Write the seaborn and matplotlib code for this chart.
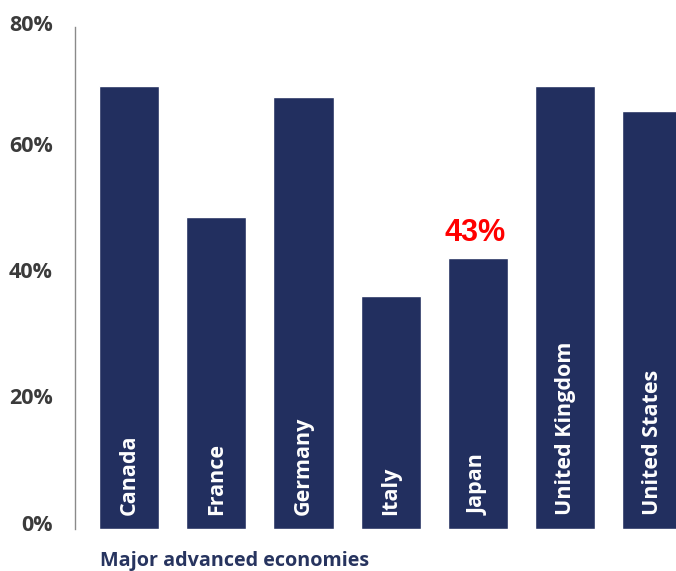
import matplotlib
matplotlib.use("Agg")
import matplotlib.pyplot as plt
import matplotlib.transforms as mtransforms
import pandas as pd
import seaborn as sns

countries = ["Canada", "France", "Germany", "Italy", "Japan", "United Kingdom", "United States"]
shares = [70.0, 49.3, 68.3, 36.9, 42.8, 70.0, 66.1]
highlight_country = "Japan"
highlight_label = "43%"
yticks = [0, 20, 40, 60, 80]
ytick_labels = ["0%", "20%", "40%", "60%", "80%"]

BAR = "#222f5f"

sns.set_theme(style="white")
plt.rcParams["font.family"] = ["Open Sans", "DejaVu Sans"]

df = pd.DataFrame({"country": countries, "share": shares})

fig = plt.figure(figsize=(6.76, 5.71), dpi=100)
ax = fig.add_axes([0.111, 0.0736, 0.889, 0.8861])

sns.barplot(data=df, x="country", y="share", color=BAR, width=0.69,
            saturation=1, ax=ax)

ax.set_xlim(-0.62, 6.27)
ax.set_ylim(0, 80)
ax.set_yticks(yticks)
ax.set_yticklabels(ytick_labels, fontsize=15.5, fontweight="bold", color="#3b3b3b")
ax.tick_params(axis="y", length=0, pad=16)
# lower labels in the original sit a few pixels above their value
shift = mtransforms.ScaledTranslation(0, 6 / 100, fig.dpi_scale_trans)
for lab in ax.get_yticklabels()[:-1]:
    lab.set_transform(lab.get_transform() + shift)
ax.set_xticks([])
ax.set_xlabel("")
ax.set_ylabel("")

for side in ["top", "right", "bottom"]:
    ax.spines[side].set_visible(False)
ax.spines["left"].set_color("#8a8a8a")
ax.spines["left"].set_linewidth(1.0)
ax.spines["left"].set_bounds(0, 79.3)

for i, name in enumerate(countries):
    ax.text(i, 2.2, name, rotation=90, ha="center", va="bottom",
            color="white", fontsize=15.5, fontweight="bold")

j = countries.index(highlight_country)
ax.text(j - 0.03, shares[j] + 1.7, highlight_label, ha="center", va="bottom",
        color="#ff0000", fontsize=22, fontweight="bold", family="Liberation Sans")

fig.text(100 / 676, 1 - 561 / 571, "Major advanced economies", ha="left", va="center",
         color="#27345f", fontsize=14.2, fontweight="bold")

fig.savefig("out.png", dpi=100)
